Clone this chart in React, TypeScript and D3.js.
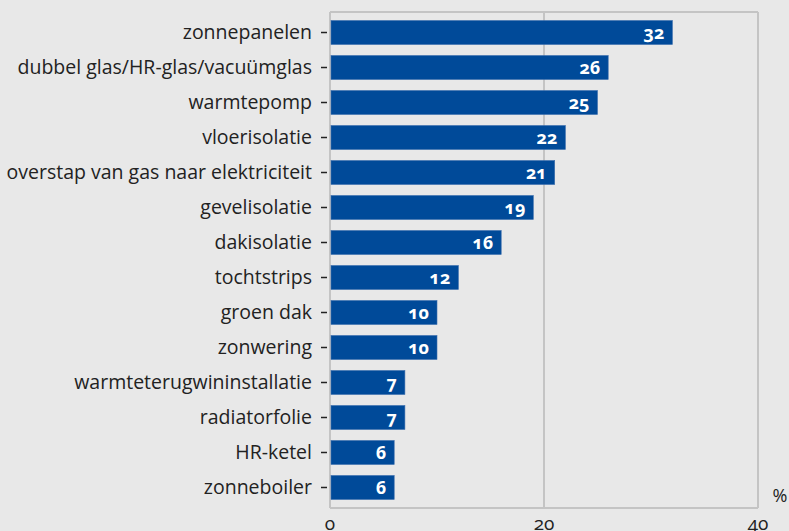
import React from "react";
import * as d3 from "d3";

const categories = [
  "zonnepanelen",
  "dubbel glas/HR-glas/vacuümglas",
  "warmtepomp",
  "vloerisolatie",
  "overstap van gas naar elektriciteit",
  "gevelisolatie",
  "dakisolatie",
  "tochtstrips",
  "groen dak",
  "zonwering",
  "warmteterugwininstallatie",
  "radiatorfolie",
  "HR-ketel",
  "zonneboiler",
];
const values = [32, 26, 25, 22, 21, 19, 16, 12, 10, 10, 7, 7, 6, 6];
const xTicks = [0, 20, 40];

const W = 789;
const H = 531;
const M = { left: 330, right: 31, top: 12, bottom: 23 };
const FONT = "'Open Sans', sans-serif";

export default function App() {
  const x = d3.scaleLinear().domain([0, 40]).range([M.left, W - M.right]);
  const y = d3
    .scaleBand<string>()
    .domain(categories)
    .range([M.top, H - M.bottom])
    .paddingInner(0.314)
    .paddingOuter(0.243);
  return (
    <svg
      width={W}
      height={H}
      style={{ position: "absolute", left: 0, top: 0, background: "#e8e8e8" }}
      fontFamily={FONT}
    >
      <rect x={0} y={0} width={W} height={H} fill="#e8e8e8" />
      {xTicks.map((t) => (
        <line key={t} x1={x(t)} x2={x(t)} y1={M.top} y2={H - M.bottom} stroke="#c4c4c4" strokeWidth={2} />
      ))}
      <line x1={M.left} x2={W - M.right} y1={M.top} y2={M.top} stroke="#c4c4c4" strokeWidth={2} />
      <line x1={M.left} x2={W - M.right} y1={H - M.bottom} y2={H - M.bottom} stroke="#c4c4c4" strokeWidth={2} />
      {categories.map((c, i) => {
        const yc = (y(c) as number) + y.bandwidth() / 2;
        return (
          <g key={c}>
            <rect
              x={x(0) + 1}
              y={y(c)}
              width={x(values[i]) - x(0) - 1}
              height={y.bandwidth()}
              fill="#004a99"
              stroke="#3c6fae"
              strokeWidth={0.6}
            />
            <line x1={321} x2={327} y1={yc} y2={yc} stroke="#222" strokeWidth={1.5} />
            <text x={312} y={yc} dy="0.35em" textAnchor="end" fontSize={19.5} fill="#222">
              {c}
            </text>
            <text
              x={x(values[i]) - 8}
              y={yc}
              dy="0.35em"
              textAnchor="end"
              fontSize={18}
              fontWeight="bold"
              fill="#fff"
              style={{ fontVariantNumeric: "oldstyle-nums" }}
            >
              {values[i]}
            </text>
          </g>
        );
      })}
      {xTicks.map((t) => (
        <text
          key={"l" + t}
          x={x(t)}
          y={530}
          textAnchor="middle"
          fontSize={19}
          fill="#222"
          style={{ fontVariantNumeric: "oldstyle-nums" }}
        >
          {t}
        </text>
      ))}
      <text x={780} y={502} textAnchor="middle" fontSize={18} fill="#222">
        %
      </text>
    </svg>
  );
}
